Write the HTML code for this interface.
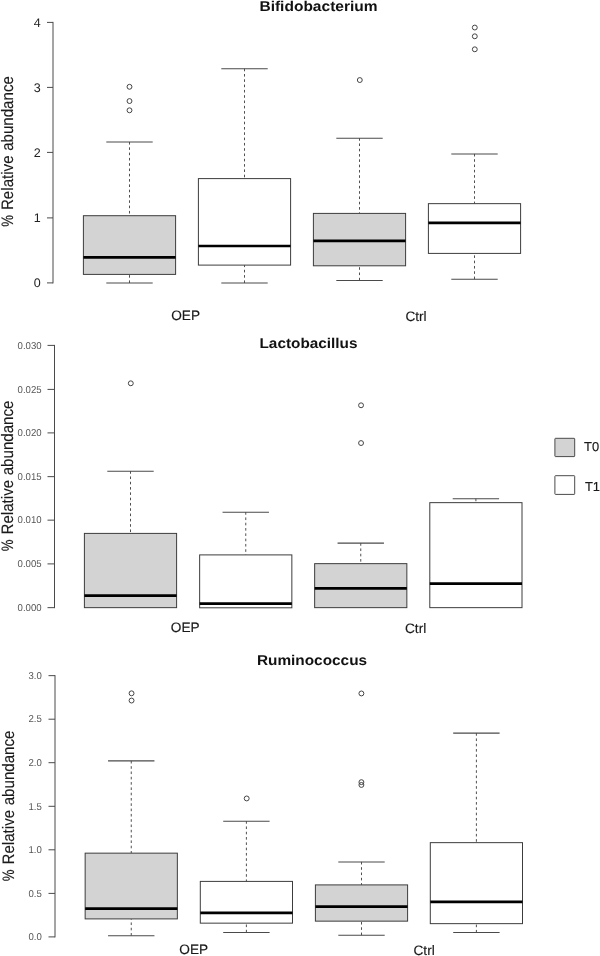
<!DOCTYPE html>
<html><head><meta charset="utf-8"><title>Boxplots</title>
<style>
html,body{margin:0;padding:0;background:#fff;}
body{width:600px;height:956px;overflow:hidden;}
svg{display:block;font-family:"Liberation Sans",sans-serif;will-change:transform;}
</style></head>
<body>
<svg width="600" height="956" viewBox="0 0 600 956" text-rendering="geometricPrecision">
<rect x="0" y="0" width="600" height="956" fill="#fff"/>
<text transform="translate(318.5,11.3) scale(1.094,1)" font-size="14.2" font-weight="bold" text-anchor="middle" fill="#111">Bifidobacterium</text>
<g transform="translate(12.9,0) rotate(-90) scale(1,1.105)" font-size="15" fill="#1a1a1a" stroke="#1a1a1a" stroke-width="0.12">
<text x="-226.75" y="0" textLength="11.8" lengthAdjust="spacingAndGlyphs">%</text>
<text x="-210.05" y="0" textLength="54.6" lengthAdjust="spacingAndGlyphs">Relative</text>
<text x="-150.85" y="0" textLength="74.7" lengthAdjust="spacingAndGlyphs">abundance</text>
</g>
<line x1="53" y1="21.9" x2="53" y2="283.4" stroke="#4a4a4a" stroke-width="1"/>
<line x1="47" y1="22.4" x2="53" y2="22.4" stroke="#4a4a4a" stroke-width="1"/>
<text transform="translate(40.7,26.7) scale(1,1)" font-size="12.5" text-anchor="end" fill="#222">4</text>
<line x1="47" y1="87.4" x2="53" y2="87.4" stroke="#4a4a4a" stroke-width="1"/>
<text transform="translate(40.7,91.7) scale(1,1)" font-size="12.5" text-anchor="end" fill="#222">3</text>
<line x1="47" y1="152.4" x2="53" y2="152.4" stroke="#4a4a4a" stroke-width="1"/>
<text transform="translate(40.7,156.7) scale(1,1)" font-size="12.5" text-anchor="end" fill="#222">2</text>
<line x1="47" y1="217.9" x2="53" y2="217.9" stroke="#4a4a4a" stroke-width="1"/>
<text transform="translate(40.7,222.2) scale(1,1)" font-size="12.5" text-anchor="end" fill="#222">1</text>
<line x1="47" y1="282.9" x2="53" y2="282.9" stroke="#4a4a4a" stroke-width="1"/>
<text transform="translate(40.7,287.2) scale(1,1)" font-size="12.5" text-anchor="end" fill="#222">0</text>
<g transform="translate(0,0.4)">
<line x1="129.5" y1="141.6" x2="129.5" y2="215.3" stroke="#3c3c3c" stroke-width="0.9" stroke-dasharray="2.6 2.7"/>
<line x1="106.3" y1="141.6" x2="152.7" y2="141.6" stroke="#4a4a4a" stroke-width="1.05"/>
<line x1="129.5" y1="282.6" x2="129.5" y2="274.0" stroke="#3c3c3c" stroke-width="0.9" stroke-dasharray="2.6 2.7"/>
<line x1="106.3" y1="282.6" x2="152.7" y2="282.6" stroke="#4a4a4a" stroke-width="1.05"/>
<rect x="83.4" y="215.3" width="92.19999999999999" height="58.69999999999999" fill="#d3d3d3" stroke="#3c3c3c" stroke-width="1"/>
<line x1="83.4" y1="257.0" x2="175.6" y2="257.0" stroke="#000" stroke-width="2.6"/>
<circle cx="129.5" cy="86.4" r="2.45" fill="none" stroke="#444" stroke-width="1"/>
<circle cx="129.5" cy="100.65" r="2.45" fill="none" stroke="#444" stroke-width="1"/>
<circle cx="129.5" cy="109.9" r="2.45" fill="none" stroke="#444" stroke-width="1"/>
</g>
<g transform="translate(0,0.4)">
<line x1="244.5" y1="68.3" x2="244.5" y2="178.2" stroke="#3c3c3c" stroke-width="0.9" stroke-dasharray="2.6 2.7"/>
<line x1="221.3" y1="68.3" x2="267.7" y2="68.3" stroke="#4a4a4a" stroke-width="1.05"/>
<line x1="244.5" y1="282.6" x2="244.5" y2="264.7" stroke="#3c3c3c" stroke-width="0.9" stroke-dasharray="2.6 2.7"/>
<line x1="221.3" y1="282.6" x2="267.7" y2="282.6" stroke="#4a4a4a" stroke-width="1.05"/>
<rect x="198.4" y="178.2" width="92.20000000000002" height="86.5" fill="#fff" stroke="#3c3c3c" stroke-width="1"/>
<line x1="198.4" y1="245.6" x2="290.6" y2="245.6" stroke="#000" stroke-width="2.6"/>
</g>
<g transform="translate(0,0.4)">
<line x1="359.5" y1="137.75" x2="359.5" y2="213.0" stroke="#3c3c3c" stroke-width="0.9" stroke-dasharray="2.6 2.7"/>
<line x1="336.3" y1="137.75" x2="382.7" y2="137.75" stroke="#4a4a4a" stroke-width="1.05"/>
<line x1="359.5" y1="280" x2="359.5" y2="265.4" stroke="#3c3c3c" stroke-width="0.9" stroke-dasharray="2.6 2.7"/>
<line x1="336.3" y1="280" x2="382.7" y2="280" stroke="#4a4a4a" stroke-width="1.05"/>
<rect x="313.4" y="213.0" width="92.20000000000005" height="52.39999999999998" fill="#d3d3d3" stroke="#3c3c3c" stroke-width="1"/>
<line x1="313.4" y1="240.5" x2="405.6" y2="240.5" stroke="#000" stroke-width="2.6"/>
<circle cx="359.8" cy="79.65" r="2.45" fill="none" stroke="#444" stroke-width="1"/>
</g>
<g transform="translate(0,0.4)">
<line x1="474.5" y1="153.5" x2="474.5" y2="203.25" stroke="#3c3c3c" stroke-width="0.9" stroke-dasharray="2.6 2.7"/>
<line x1="451.3" y1="153.5" x2="497.7" y2="153.5" stroke="#4a4a4a" stroke-width="1.05"/>
<line x1="474.5" y1="278.75" x2="474.5" y2="253" stroke="#3c3c3c" stroke-width="0.9" stroke-dasharray="2.6 2.7"/>
<line x1="451.3" y1="278.75" x2="497.7" y2="278.75" stroke="#4a4a4a" stroke-width="1.05"/>
<rect x="428.4" y="203.25" width="92.20000000000005" height="49.75" fill="#fff" stroke="#3c3c3c" stroke-width="1"/>
<line x1="428.4" y1="222.5" x2="520.6" y2="222.5" stroke="#000" stroke-width="2.6"/>
<circle cx="474.8" cy="27.15" r="2.45" fill="none" stroke="#444" stroke-width="1"/>
<circle cx="474.8" cy="35.9" r="2.45" fill="none" stroke="#444" stroke-width="1"/>
<circle cx="474.8" cy="48.9" r="2.45" fill="none" stroke="#444" stroke-width="1"/>
</g>
<text x="185.6" y="319.8" font-size="13.65" text-anchor="middle" fill="#1a1a1a" stroke="#1a1a1a" stroke-width="0.15">OEP</text>
<text x="416" y="320.9" font-size="13.65" text-anchor="middle" fill="#1a1a1a" stroke="#1a1a1a" stroke-width="0.15">Ctrl</text>
<text transform="translate(308.5,348.4) scale(1.081,1)" font-size="14.2" font-weight="bold" text-anchor="middle" fill="#111">Lactobacillus</text>
<g transform="translate(13.3,0) rotate(-90) scale(1,1.105)" font-size="15" fill="#1a1a1a" stroke="#1a1a1a" stroke-width="0.12">
<text x="-551.2" y="0" textLength="11.8" lengthAdjust="spacingAndGlyphs">%</text>
<text x="-534.5" y="0" textLength="54.6" lengthAdjust="spacingAndGlyphs">Relative</text>
<text x="-475.3" y="0" textLength="74.7" lengthAdjust="spacingAndGlyphs">abundance</text>
</g>
<line x1="54.5" y1="344.9" x2="54.5" y2="608.15" stroke="#4a4a4a" stroke-width="1"/>
<line x1="47.5" y1="345.4" x2="54.5" y2="345.4" stroke="#4a4a4a" stroke-width="1"/>
<text transform="translate(41.6,348.6) scale(0.96,1)" font-size="10" text-anchor="end" fill="#555">0.030</text>
<line x1="47.5" y1="389.4" x2="54.5" y2="389.4" stroke="#4a4a4a" stroke-width="1"/>
<text transform="translate(41.6,392.6) scale(0.96,1)" font-size="10" text-anchor="end" fill="#555">0.025</text>
<line x1="47.5" y1="432.9" x2="54.5" y2="432.9" stroke="#4a4a4a" stroke-width="1"/>
<text transform="translate(41.6,436.1) scale(0.96,1)" font-size="10" text-anchor="end" fill="#555">0.020</text>
<line x1="47.5" y1="476.65" x2="54.5" y2="476.65" stroke="#4a4a4a" stroke-width="1"/>
<text transform="translate(41.6,479.85) scale(0.96,1)" font-size="10" text-anchor="end" fill="#555">0.015</text>
<line x1="47.5" y1="520.15" x2="54.5" y2="520.15" stroke="#4a4a4a" stroke-width="1"/>
<text transform="translate(41.6,523.35) scale(0.96,1)" font-size="10" text-anchor="end" fill="#555">0.010</text>
<line x1="47.5" y1="563.9" x2="54.5" y2="563.9" stroke="#4a4a4a" stroke-width="1"/>
<text transform="translate(41.6,567.1) scale(0.96,1)" font-size="10" text-anchor="end" fill="#555">0.005</text>
<line x1="47.5" y1="607.65" x2="54.5" y2="607.65" stroke="#4a4a4a" stroke-width="1"/>
<text transform="translate(41.6,610.85) scale(0.96,1)" font-size="10" text-anchor="end" fill="#555">0.000</text>
<g transform="translate(0,0.4)">
<line x1="130.5" y1="470.75" x2="130.5" y2="533" stroke="#3c3c3c" stroke-width="0.9" stroke-dasharray="2.6 2.7"/>
<line x1="107.3" y1="470.75" x2="153.7" y2="470.75" stroke="#4a4a4a" stroke-width="1.05"/>
<rect x="84.4" y="533" width="92.19999999999999" height="74.25" fill="#d3d3d3" stroke="#3c3c3c" stroke-width="1"/>
<line x1="84.4" y1="595.25" x2="176.6" y2="595.25" stroke="#000" stroke-width="2.6"/>
<circle cx="130.8" cy="382.9" r="2.45" fill="none" stroke="#444" stroke-width="1"/>
</g>
<g transform="translate(0,0.4)">
<line x1="245.75" y1="511.75" x2="245.75" y2="554.5" stroke="#3c3c3c" stroke-width="0.9" stroke-dasharray="2.6 2.7"/>
<line x1="222.55" y1="511.75" x2="268.95" y2="511.75" stroke="#4a4a4a" stroke-width="1.05"/>
<rect x="199.65" y="554.5" width="92.20000000000002" height="52.89999999999998" fill="#fff" stroke="#3c3c3c" stroke-width="1"/>
<line x1="199.65" y1="603.25" x2="291.85" y2="603.25" stroke="#000" stroke-width="2.6"/>
</g>
<g transform="translate(0,0.4)">
<line x1="360.75" y1="542.75" x2="360.75" y2="563.25" stroke="#3c3c3c" stroke-width="0.9" stroke-dasharray="2.6 2.7"/>
<line x1="337.55" y1="542.75" x2="383.95" y2="542.75" stroke="#4a4a4a" stroke-width="1.05"/>
<rect x="314.65" y="563.25" width="92.20000000000005" height="44.0" fill="#d3d3d3" stroke="#3c3c3c" stroke-width="1"/>
<line x1="314.65" y1="588" x2="406.85" y2="588" stroke="#000" stroke-width="2.6"/>
<circle cx="361.05" cy="404.9" r="2.45" fill="none" stroke="#444" stroke-width="1"/>
<circle cx="361.05" cy="442.65" r="2.45" fill="none" stroke="#444" stroke-width="1"/>
</g>
<g transform="translate(0,0.4)">
<line x1="475.9" y1="498.25" x2="475.9" y2="502.25" stroke="#3c3c3c" stroke-width="0.9" stroke-dasharray="2.6 2.7"/>
<line x1="452.7" y1="498.25" x2="499.09999999999997" y2="498.25" stroke="#4a4a4a" stroke-width="1.05"/>
<rect x="429.79999999999995" y="502.25" width="92.20000000000005" height="105.0" fill="#fff" stroke="#3c3c3c" stroke-width="1"/>
<line x1="429.79999999999995" y1="583.25" x2="522.0" y2="583.25" stroke="#000" stroke-width="2.6"/>
</g>
<text x="185.2" y="632.2" font-size="13.65" text-anchor="middle" fill="#1a1a1a" stroke="#1a1a1a" stroke-width="0.15">OEP</text>
<text x="415.6" y="633.1" font-size="13.65" text-anchor="middle" fill="#1a1a1a" stroke="#1a1a1a" stroke-width="0.15">Ctrl</text>
<text transform="translate(312,665.1) scale(1.083,1)" font-size="14.2" font-weight="bold" text-anchor="middle" fill="#111">Ruminococcus</text>
<g transform="translate(13.6,0) rotate(-90) scale(1,1.105)" font-size="15" fill="#1a1a1a" stroke="#1a1a1a" stroke-width="0.12">
<text x="-881.2" y="0" textLength="11.8" lengthAdjust="spacingAndGlyphs">%</text>
<text x="-864.5" y="0" textLength="54.6" lengthAdjust="spacingAndGlyphs">Relative</text>
<text x="-805.3" y="0" textLength="74.7" lengthAdjust="spacingAndGlyphs">abundance</text>
</g>
<line x1="55" y1="675.15" x2="55" y2="937.4" stroke="#4a4a4a" stroke-width="1"/>
<line x1="48.5" y1="675.65" x2="55" y2="675.65" stroke="#4a4a4a" stroke-width="1"/>
<text transform="translate(41.8,678.85) scale(0.96,1)" font-size="10" text-anchor="end" fill="#555">3.0</text>
<line x1="48.5" y1="719.1999999999999" x2="55" y2="719.1999999999999" stroke="#4a4a4a" stroke-width="1"/>
<text transform="translate(41.8,722.4) scale(0.96,1)" font-size="10" text-anchor="end" fill="#555">2.5</text>
<line x1="48.5" y1="762.6999999999999" x2="55" y2="762.6999999999999" stroke="#4a4a4a" stroke-width="1"/>
<text transform="translate(41.8,765.9) scale(0.96,1)" font-size="10" text-anchor="end" fill="#555">2.0</text>
<line x1="48.5" y1="806.3" x2="55" y2="806.3" stroke="#4a4a4a" stroke-width="1"/>
<text transform="translate(41.8,809.5) scale(0.96,1)" font-size="10" text-anchor="end" fill="#555">1.5</text>
<line x1="48.5" y1="849.8" x2="55" y2="849.8" stroke="#4a4a4a" stroke-width="1"/>
<text transform="translate(41.8,853.0) scale(0.96,1)" font-size="10" text-anchor="end" fill="#555">1.0</text>
<line x1="48.5" y1="893.4" x2="55" y2="893.4" stroke="#4a4a4a" stroke-width="1"/>
<text transform="translate(41.8,896.6) scale(0.96,1)" font-size="10" text-anchor="end" fill="#555">0.5</text>
<line x1="48.5" y1="936.9" x2="55" y2="936.9" stroke="#4a4a4a" stroke-width="1"/>
<text transform="translate(41.8,940.1) scale(0.96,1)" font-size="10" text-anchor="end" fill="#555">0.0</text>
<g transform="translate(0,0.4)">
<line x1="131.25" y1="760.5" x2="131.25" y2="852.75" stroke="#3c3c3c" stroke-width="0.9" stroke-dasharray="2.6 2.7"/>
<line x1="108.05" y1="760.5" x2="154.45" y2="760.5" stroke="#4a4a4a" stroke-width="1.05"/>
<line x1="131.25" y1="935.25" x2="131.25" y2="918.5" stroke="#3c3c3c" stroke-width="0.9" stroke-dasharray="2.6 2.7"/>
<line x1="108.05" y1="935.25" x2="154.45" y2="935.25" stroke="#4a4a4a" stroke-width="1.05"/>
<rect x="85.15" y="852.75" width="92.19999999999999" height="65.75" fill="#d3d3d3" stroke="#3c3c3c" stroke-width="1"/>
<line x1="85.15" y1="908.25" x2="177.35" y2="908.25" stroke="#000" stroke-width="2.6"/>
<circle cx="131.55" cy="692.9" r="2.45" fill="none" stroke="#444" stroke-width="1"/>
<circle cx="131.55" cy="700.15" r="2.45" fill="none" stroke="#444" stroke-width="1"/>
</g>
<g transform="translate(0,0.4)">
<line x1="246.4" y1="820.75" x2="246.4" y2="881" stroke="#3c3c3c" stroke-width="0.9" stroke-dasharray="2.6 2.7"/>
<line x1="223.20000000000002" y1="820.75" x2="269.6" y2="820.75" stroke="#4a4a4a" stroke-width="1.05"/>
<line x1="246.4" y1="932" x2="246.4" y2="922.75" stroke="#3c3c3c" stroke-width="0.9" stroke-dasharray="2.6 2.7"/>
<line x1="223.20000000000002" y1="932" x2="269.6" y2="932" stroke="#4a4a4a" stroke-width="1.05"/>
<rect x="200.3" y="881" width="92.19999999999999" height="41.75" fill="#fff" stroke="#3c3c3c" stroke-width="1"/>
<line x1="200.3" y1="912.5" x2="292.5" y2="912.5" stroke="#000" stroke-width="2.6"/>
<circle cx="246.7" cy="798.05" r="2.45" fill="none" stroke="#444" stroke-width="1"/>
</g>
<g transform="translate(0,0.4)">
<line x1="361.5" y1="861.5" x2="361.5" y2="884.5" stroke="#3c3c3c" stroke-width="0.9" stroke-dasharray="2.6 2.7"/>
<line x1="338.3" y1="861.5" x2="384.7" y2="861.5" stroke="#4a4a4a" stroke-width="1.05"/>
<line x1="361.5" y1="934.75" x2="361.5" y2="920.75" stroke="#3c3c3c" stroke-width="0.9" stroke-dasharray="2.6 2.7"/>
<line x1="338.3" y1="934.75" x2="384.7" y2="934.75" stroke="#4a4a4a" stroke-width="1.05"/>
<rect x="315.4" y="884.5" width="92.20000000000005" height="36.25" fill="#d3d3d3" stroke="#3c3c3c" stroke-width="1"/>
<line x1="315.4" y1="906.25" x2="407.6" y2="906.25" stroke="#000" stroke-width="2.6"/>
<circle cx="361.4" cy="693.05" r="2.45" fill="none" stroke="#444" stroke-width="1"/>
<circle cx="361.4" cy="781.75" r="2.45" fill="none" stroke="#444" stroke-width="1"/>
<circle cx="361.4" cy="784.55" r="2.45" fill="none" stroke="#444" stroke-width="1"/>
</g>
<g transform="translate(0,0.4)">
<line x1="476.4" y1="732.75" x2="476.4" y2="842.25" stroke="#3c3c3c" stroke-width="0.9" stroke-dasharray="2.6 2.7"/>
<line x1="453.2" y1="732.75" x2="499.59999999999997" y2="732.75" stroke="#4a4a4a" stroke-width="1.05"/>
<line x1="476.4" y1="932.1" x2="476.4" y2="923.25" stroke="#3c3c3c" stroke-width="0.9" stroke-dasharray="2.6 2.7"/>
<line x1="453.2" y1="932.1" x2="499.59999999999997" y2="932.1" stroke="#4a4a4a" stroke-width="1.05"/>
<rect x="430.29999999999995" y="842.25" width="92.20000000000005" height="81.0" fill="#fff" stroke="#3c3c3c" stroke-width="1"/>
<line x1="430.29999999999995" y1="901.5" x2="522.5" y2="901.5" stroke="#000" stroke-width="2.6"/>
</g>
<text x="193.7" y="954.2" font-size="13.65" text-anchor="middle" fill="#1a1a1a" stroke="#1a1a1a" stroke-width="0.15">OEP</text>
<text x="424.1" y="954.8" font-size="13.65" text-anchor="middle" fill="#1a1a1a" stroke="#1a1a1a" stroke-width="0.15">Ctrl</text>
<rect x="554.9" y="438.3" width="19.8" height="18.3" rx="0.6" fill="#d3d3d3" stroke="#4a4a4a" stroke-width="1"/>
<rect x="554.9" y="475.7" width="19.8" height="18.7" rx="0.6" fill="#fff" stroke="#4a4a4a" stroke-width="1"/>
<text x="584.0" y="450.7" font-size="12.95" fill="#1a1a1a" stroke="#1a1a1a" stroke-width="0.15">T0</text>
<text x="584.9" y="490.8" font-size="12.95" fill="#1a1a1a" stroke="#1a1a1a" stroke-width="0.15">T1</text>
</svg>
</body></html>
